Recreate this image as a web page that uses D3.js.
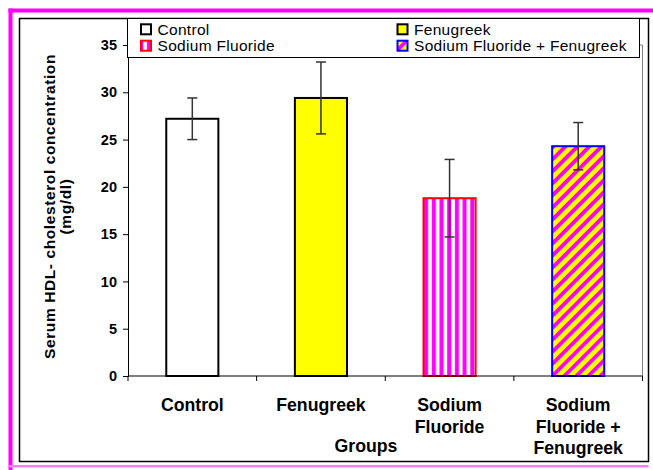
<!DOCTYPE html>
<html>
<head>
<meta charset="utf-8">
<script src="https://cdn.jsdelivr.net/npm/d3@7"></script>
<style>
  html, body { margin: 0; padding: 0; background: #fff; }
  svg { display: block; }
  text { font-family: "Liberation Sans", Arial, sans-serif; }
</style>
</head>
<body>
<svg id="chart" width="653" height="470"></svg>
<script>
// Serum HDL-cholesterol by treatment group (mean ± error)
const categories = ["Control", "Fenugreek", "Sodium Fluoride", "Sodium Fluoride + Fenugreek"];
const categoryLines = [["Control"], ["Fenugreek"], ["Sodium", "Fluoride"], ["Sodium", "Fluoride +", "Fenugreek"]];
const means = [27.2, 29.4, 18.8, 24.3];
const errors = [2.2, 3.8, 4.1, 2.5];
const yTicks = [0, 5, 10, 15, 20, 25, 30, 35];
const yLabelLines = ["Serum HDL- cholesterol  concentration", "(mg/dl)"];
const xTitle = "Groups";

const fills = ["#ffffff", "#ffff00", "url(#vstripe)", "url(#diag)"];
const strokes = ["#000000", "#000000", "#ff0000", "#0000ff"];

const svg = d3.select("#chart");

// hatch patterns
const defs = svg.append("defs");
const vs = defs.append("pattern").attr("id", "vstripe").attr("patternUnits", "userSpaceOnUse")
  .attr("width", 7.7).attr("height", 10).attr("x", 168);
vs.append("rect").attr("width", 7.7).attr("height", 10).attr("fill", "#fff");
vs.append("rect").attr("x", 2).attr("width", 4).attr("height", 10).attr("fill", "#ff00ff");

const dg = defs.append("pattern").attr("id", "diag").attr("patternUnits", "userSpaceOnUse")
  .attr("width", 8.5).attr("height", 10).attr("patternTransform", "rotate(45)");
dg.append("rect").attr("width", 8.5).attr("height", 10).attr("fill", "#ffff00");
dg.append("rect").attr("width", 3.8).attr("height", 10).attr("fill", "#ff00ff");

// outer decorative frame
svg.append("rect").attr("x", 8.5).attr("y", 8.5).attr("width", 4).attr("height", 462).attr("fill", "#ff00ff");
svg.append("rect").attr("x", 8.5).attr("y", 8.5).attr("width", 645).attr("height", 4).attr("fill", "#ff00ff");
svg.append("rect").attr("x", 8.5).attr("y", 465).attr("width", 640).attr("height", 2.5).attr("fill", "#ee82ee");

// chart frame
svg.append("rect").attr("x", 19.5).attr("y", 18.5).attr("width", 629).attr("height", 443)
  .attr("fill", "#fff").attr("stroke", "#000").attr("stroke-width", 1.5);

const plot = { left: 128, right: 642.5, top: 45, bottom: 376 };

const y = d3.scaleLinear().domain([0, 35]).range([plot.bottom, plot.top]);
const x = d3.scaleBand().domain(categories).range([plot.left, plot.right])
  .paddingInner(0.595).paddingOuter(0.595 / 2);
const step = x.step();

// plot area border (top/right)
svg.append("path")
  .attr("d", `M${plot.left},${plot.top}H${plot.right}V${plot.bottom}`)
  .attr("fill", "none").attr("stroke", "#808080").attr("stroke-width", 1);

// bars
svg.append("g").selectAll("rect").data(categories).join("rect")
  .attr("x", d => x(d))
  .attr("y", (d, i) => y(means[i]))
  .attr("width", x.bandwidth())
  .attr("height", (d, i) => y(0) - y(means[i]))
  .attr("fill", (d, i) => fills[i])
  .attr("stroke", (d, i) => strokes[i])
  .attr("stroke-width", 2);

// error bars
const eb = svg.append("g").attr("stroke", "#333").attr("stroke-width", 1.5);
categories.forEach((c, i) => {
  const cx = x(c) + x.bandwidth() / 2;
  const hi = y(means[i] + errors[i]), lo = y(means[i] - errors[i]);
  eb.append("line").attr("x1", cx).attr("x2", cx).attr("y1", hi).attr("y2", lo);
  eb.append("line").attr("x1", cx - 5).attr("x2", cx + 5).attr("y1", hi).attr("y2", hi);
  eb.append("line").attr("x1", cx - 5).attr("x2", cx + 5).attr("y1", lo).attr("y2", lo);
});

// y axis
const yAxis = svg.append("g").attr("transform", `translate(${plot.left},0)`)
  .call(d3.axisLeft(y).tickValues(yTicks).tickSize(5).tickPadding(6));
yAxis.select(".domain").attr("stroke", "#000").attr("stroke-width", 1);
yAxis.selectAll(".tick line").attr("stroke", "#000");
yAxis.selectAll(".tick text").attr("font-size", 14.5).attr("font-weight", "bold")
  .attr("font-family", "Liberation Sans, Arial, sans-serif").attr("fill", "#000");

// x axis with ticks at category boundaries
svg.append("line").attr("x1", plot.left).attr("x2", plot.right)
  .attr("y1", plot.bottom).attr("y2", plot.bottom).attr("stroke", "#000").attr("stroke-width", 1.2);
const bounds = d3.range(categories.length + 1).map(i => plot.left + i * step);
svg.append("g").selectAll("line").data(bounds).join("line")
  .attr("x1", d => d).attr("x2", d => d)
  .attr("y1", plot.bottom).attr("y2", plot.bottom + 5)
  .attr("stroke", "#000").attr("stroke-width", 1);

// category labels
const xl = svg.append("g").attr("font-size", 17.7).attr("font-weight", "bold").attr("text-anchor", "middle");
categories.forEach((c, i) => {
  const t = xl.append("text").attr("x", x(c) + x.bandwidth() / 2).attr("y", 411);
  categoryLines[i].forEach((ln, j) => {
    t.append("tspan").attr("x", x(c) + x.bandwidth() / 2).attr("dy", j === 0 ? 0 : 21.5).text(ln);
  });
});

svg.append("text").attr("x", 366).attr("y", 452).attr("text-anchor", "middle")
  .attr("font-size", 17.7).attr("font-weight", "bold").text(xTitle);

// y axis title
const yl = svg.append("text").attr("transform", "translate(55,206.5) rotate(-90)")
  .attr("text-anchor", "middle").attr("font-size", 15.5).attr("font-weight", "bold")
  .attr("letter-spacing", 0.6);
yLabelLines.forEach((ln, j) => {
  yl.append("tspan").attr("x", 0).attr("dy", j === 0 ? 0 : 15.5).text(ln);
});

// legend
const legend = svg.append("g");
legend.append("rect").attr("x", 127.5).attr("y", 18.5).attr("width", 512).attr("height", 39)
  .attr("fill", "#fff").attr("stroke", "#000").attr("stroke-width", 1);
const legPos = [[141, 29.3], [397.5, 29.3], [141, 45.7], [397.5, 45.7]];
categories.forEach((c, i) => {
  const [lx, ly] = legPos[i];
  legend.append("rect").attr("x", lx).attr("y", ly - 5).attr("width", 10).attr("height", 10)
    .attr("fill", fills[i]).attr("stroke", strokes[i]).attr("stroke-width", 2);
  legend.append("text").attr("x", lx + 16.5).attr("y", ly + 5.5)
    .attr("font-size", 15.5).attr("letter-spacing", 0.3).text(c);
});
</script>
</body>
</html>
